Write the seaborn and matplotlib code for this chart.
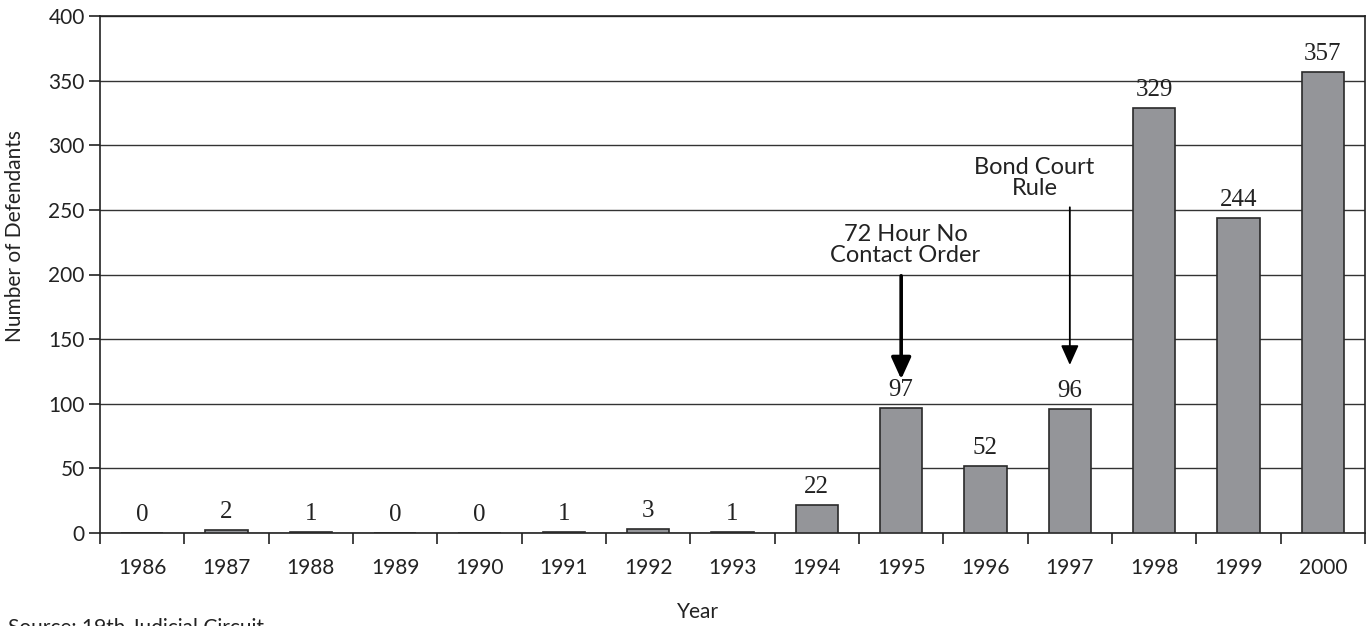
import matplotlib
matplotlib.use("Agg")
import matplotlib.pyplot as plt
import seaborn as sns
import pandas as pd

years = ["1986", "1987", "1988", "1989", "1990", "1991", "1992", "1993",
         "1994", "1995", "1996", "1997", "1998", "1999", "2000"]
defendants = [0, 2, 1, 0, 0, 1, 3, 1, 22, 97, 52, 96, 329, 244, 357]
y_ticks = [0, 50, 100, 150, 200, 250, 300, 350, 400]

df = pd.DataFrame({"Year": years, "Defendants": defendants})

sns.set_theme(style="white")
plt.rcParams['font.family'] = ['Lato', 'DejaVu Sans']

fig = plt.figure(figsize=(13.67, 6.26), dpi=100)
ax = fig.add_axes([100/1367, 1-533/626, 1265/1367, 517/626])

sns.barplot(data=df, x="Year", y="Defendants", color="#949599",
            edgecolor="#2a2a2a", linewidth=1.2, width=0.5, saturation=1, ax=ax, zorder=3)

ax.set_ylim(0, 400)
ax.set_xlim(-0.5, len(years) - 0.5)
ax.set_yticks(y_ticks)
ax.yaxis.grid(True, color="#333333", linewidth=1.0, zorder=0)
ax.set_axisbelow(True)
for s in ax.spines.values():
    s.set_color("#222222")
    s.set_linewidth(1.2)

ax.tick_params(axis="y", which="both", direction="out", length=8, width=1.2,
               color="#222222", labelsize=15, labelcolor="#222222", left=True, pad=3)
ax.set_xticks(range(len(years)))
ax.set_xticklabels(years)
ax.tick_params(axis="x", which="major", length=0, labelsize=15, labelcolor="#222222", pad=18)
ax.set_xticks([i - 0.5 for i in range(len(years) + 1)], minor=True)
ax.tick_params(axis="x", which="minor", direction="out", length=8, width=1.2,
               color="#222222", bottom=True)

ax.set_xlabel("")
ax.set_ylabel("")
fig.text(15/1367, 1-236/626, "Number of Defendants", rotation=90, fontsize=15,
         color="#222222", ha="center", va="center")
fig.text(698/1367, 1-612/626, "Year", fontsize=15, color="#222222", ha="center", va="center")
fig.text(8/1367, 1-618/626, "Source: 19th Judicial Circuit", fontsize=15,
         color="#222222", ha="left", va="top")

for i, v in enumerate(defendants):
    ax.annotate(str(v), (i, v), xytext=(0, 5), textcoords="offset points",
                ha="center", va="bottom", fontsize=18, color="#222222",
                family="Liberation Serif")

ax.annotate("", xy=(9.0, 119), xytext=(9.0, 199),
            arrowprops=dict(arrowstyle="-|>,head_width=0.5,head_length=1.1",
                            color="black", lw=2.6, shrinkA=0, shrinkB=0), zorder=5)
ax.text(9.05, 223, "72 Hour No\nContact Order", ha="center", va="center",
        fontsize=17, color="#222222", linespacing=1.0)

ax.annotate("", xy=(11.0, 130), xytext=(11.0, 252),
            arrowprops=dict(arrowstyle="-|>,head_width=0.45,head_length=1.0",
                            color="black", lw=1.3, shrinkA=0, shrinkB=0), zorder=5)
ax.text(10.58, 275, "Bond Court\nRule", ha="center", va="center",
        fontsize=17, color="#222222", linespacing=1.0)

fig.savefig("out.png", dpi=100)
